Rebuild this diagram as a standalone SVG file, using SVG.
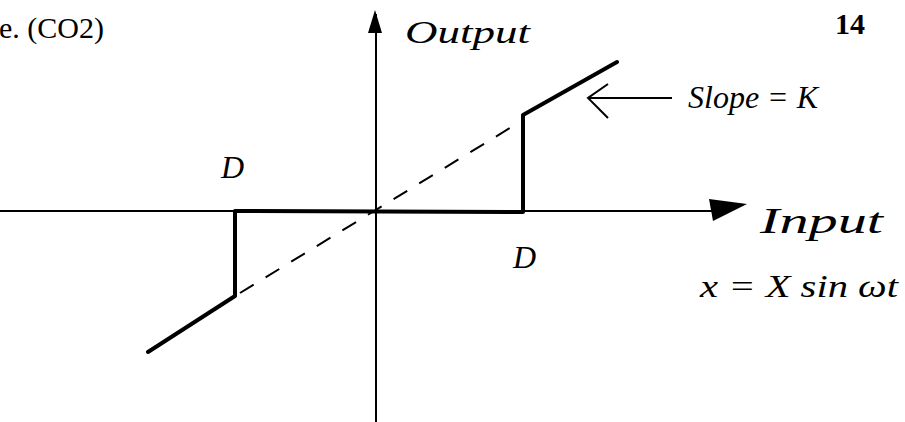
<svg xmlns="http://www.w3.org/2000/svg" width="905" height="422" viewBox="0 0 905 422">
<style>
.ax{stroke:#000;stroke-width:2;fill:none}
.th{stroke:#000;stroke-width:4;fill:none;stroke-linecap:round;stroke-linejoin:round}
.da{stroke:#000;stroke-width:2;fill:none;stroke-dasharray:16,14}
.hw{font-family:"Liberation Serif",serif;font-style:italic;fill:#000}
.pr{font-family:"Liberation Serif",serif;fill:#000}
</style>
<rect width="905" height="422" fill="#fff"/>
<g id="header">
<text class="pr" x="-1" y="38" font-size="30">e. (CO2)</text>
<text class="pr" x="835" y="34" font-size="30" font-weight="bold">14</text>
</g>
<g id="connectors">
<line class="ax" x1="376" y1="14" x2="376" y2="422"/>
<polygon points="375,10 368,33 382,33" fill="#000"/>
<line class="ax" x1="0" y1="211" x2="715" y2="211"/>
<polygon points="747,204 709,199 713,221" fill="#000"/>
<line class="da" x1="240" y1="293" x2="523" y2="120"/>
<polyline class="th" points="148,352 235,296 235,211 523,212 523,115 617,62"/>
<line class="ax" x1="588" y1="98" x2="672" y2="98"/>
<polyline class="ax" points="608,84 588,98 608,118"/>
</g>
<g id="labels">
<text class="hw" x="405" y="43" font-size="32" textLength="125" lengthAdjust="spacingAndGlyphs">Output</text>
<text class="hw" x="688" y="108" font-size="32">Slope = K</text>
<text class="hw" x="221" y="178" font-size="32">D</text>
<text class="hw" x="513" y="268" font-size="32">D</text>
<text class="hw" x="760" y="233" font-size="36" textLength="123" lengthAdjust="spacingAndGlyphs">Input</text>
<text class="hw" x="700" y="297" font-size="32" textLength="198" lengthAdjust="spacingAndGlyphs">x = X sin ωt</text>
</g>
</svg>
